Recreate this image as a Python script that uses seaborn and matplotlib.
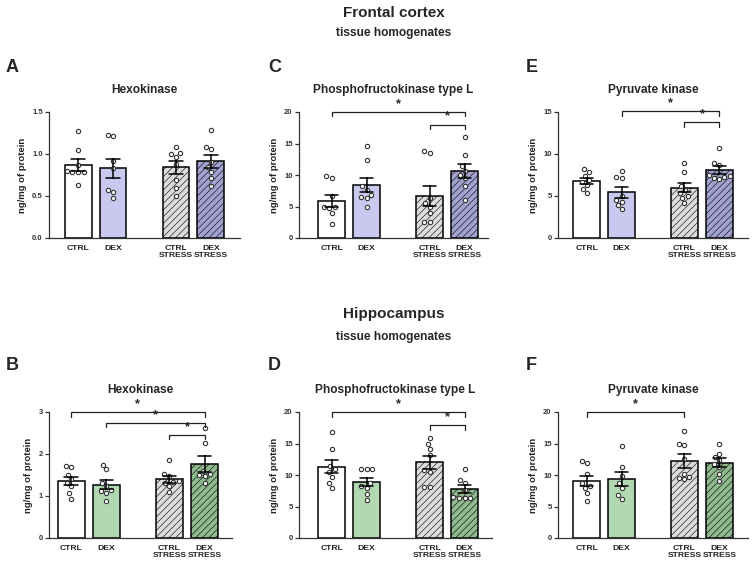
import numpy as np
import pandas as pd
import matplotlib
matplotlib.use("Agg")
import matplotlib.pyplot as plt
import seaborn as sns

# ---------------- data ----------------
groups = ["CTRL", "DEX", "CTRL STRESS", "DEX STRESS"]
tick_labels = ["CTRL", "DEX", "CTRL\nSTRESS", "DEX\nSTRESS"]

# A: Frontal cortex - Hexokinase
a_ctrl = [1.27, 1.05, 0.87, 0.80, 0.79, 0.78, 0.79, 0.63]
a_dex = [1.21, 1.23, 0.92, 0.83, 0.575, 0.55, 0.48]
a_cs = [1.08, 1.01, 1.00, 0.97, 0.885, 0.69, 0.59, 0.50]
a_ds = [1.29, 1.08, 1.06, 0.91, 0.845, 0.79, 0.71, 0.615]

# C: Frontal cortex - Phosphofructokinase type L
c_ctrl = [9.8, 9.6, 6.6, 5.0, 4.9, 4.8, 4.0, 2.2]
c_dex = [14.6, 12.4, 8.2, 7.6, 6.8, 6.5, 6.3, 5.0]
c_cs = [13.5, 13.75, 6.35, 5.55, 5.0, 4.0, 2.5, 2.5]
c_ds = [16.0, 13.2, 10.6, 11.4, 10.05, 9.5, 8.3, 6.1]

# E: Frontal cortex - Pyruvate kinase
e_ctrl = [8.2, 7.9, 7.4, 6.9, 6.7, 6.3, 5.8, 5.3]
e_dex = [8.0, 7.3, 7.1, 5.0, 4.5, 4.3, 3.9, 3.4]
e_cs = [8.9, 7.9, 6.2, 5.75, 5.35, 5.0, 4.75, 4.15]
e_ds = [10.7, 8.9, 8.7, 7.5, 7.4, 7.15, 7.0, 7.3]

# B: Hippocampus - Hexokinase
b_ctrl = [1.71, 1.68, 1.51, 1.40, 1.31, 1.23, 1.06, 0.94]
b_dex = [1.75, 1.64, 1.31, 1.23, 1.15, 1.13, 1.07, 0.89]
b_cs = [1.85, 1.53, 1.48, 1.35, 1.33, 1.31, 1.23, 1.09]
b_ds = [2.63, 2.26, 1.60, 1.53, 1.50, 1.48, 1.32]

# D: Hippocampus - Phosphofructokinase type L
d_ctrl = [16.8, 14.2, 11.4, 10.9, 10.5, 9.7, 8.8, 8.0]
d_dex = [10.9, 10.9, 10.9, 8.7, 8.3, 8.0, 7.0, 6.05]
d_cs = [15.9, 15.0, 14.2, 13.2, 10.8, 10.5, 8.15, 8.15]
d_ds = [10.9, 9.2, 8.7, 7.6, 6.5, 6.3, 6.3, 6.3]

# F: Hippocampus - Pyruvate kinase
f_ctrl = [12.3, 11.85, 10.15, 8.7, 8.3, 7.9, 7.1, 5.8]
f_dex = [14.6, 11.3, 9.85, 8.7, 7.9, 6.85, 6.2]
f_cs = [17.0, 14.9, 14.75, 12.5, 10.15, 9.75, 9.5, 9.3]
f_ds = [14.9, 13.4, 12.9, 12.4, 11.7, 11.3, 10.15, 9.1]

# significance brackets: (group i, group j, y)
a_sig = []
c_sig = [(0, 3, 20.0), (2, 3, 18.0)]
e_sig = [(1, 3, 15.1), (2, 3, 13.8)]
b_sig = [(0, 3, 3.0), (1, 3, 2.74), (2, 3, 2.46)]
d_sig = [(0, 3, 20.0), (2, 3, 17.9)]
f_sig = [(0, 2, 20.0)]

# ---------------- style ----------------
sns.set_theme(style="ticks")
plt.rcParams["font.family"] = ["Liberation Sans", "DejaVu Sans"]
plt.rcParams["font.weight"] = "bold"
plt.rcParams["hatch.linewidth"] = 0.4

W, H = 752, 567
fig = plt.figure(figsize=(W / 100, H / 100), dpi=100)
fig.patch.set_facecolor("white")

positions = [0.0, 1.0, 2.8, 3.8]
purple_pal = {"CTRL": "#ffffff", "DEX": "#c2c2f6",
              "CTRL STRESS": "#dcdcdc", "DEX STRESS": "#9a9ad8"}
green_pal = {"CTRL": "#ffffff", "DEX": "#acdeac",
             "CTRL STRESS": "#dcdcdc", "DEX STRESS": "#88c088"}
hatched = {"CTRL STRESS", "DEX STRESS"}
axis_col = "#333333"


def px_rect(x0, x1, ytop, ybot):
    return [x0 / W, 1 - ybot / H, (x1 - x0) / W, (ybot - ytop) / H]


panels = [
    dict(letter="A", title="Hexokinase", data=[a_ctrl, a_dex, a_cs, a_ds],
         ymax=1.5, yticks=[0, 0.5, 1.0, 1.5], yfmt="{:.1f}", sig=a_sig,
         pal=purple_pal, rect=px_rect(49, 240, 112, 238), xlim=(-0.83, 4.63),
         lx=6, ly=68),
    dict(letter="C", title="Phosphofructokinase type L", data=[c_ctrl, c_dex, c_cs, c_ds],
         ymax=20, yticks=[0, 5, 10, 15, 20], yfmt="{:.0f}", sig=c_sig,
         pal=purple_pal, rect=px_rect(299, 488, 112, 238), xlim=(-0.93, 4.47),
         lx=268, ly=68),
    dict(letter="E", title="Pyruvate kinase", data=[e_ctrl, e_dex, e_cs, e_ds],
         ymax=15, yticks=[0, 5, 10, 15], yfmt="{:.0f}", sig=e_sig,
         pal=purple_pal, rect=px_rect(558, 748, 112, 238), xlim=(-0.82, 4.62),
         lx=526, ly=68),
    dict(letter="B", title="Hexokinase", data=[b_ctrl, b_dex, b_cs, b_ds],
         ymax=3, yticks=[0, 1, 2, 3], yfmt="{:.0f}", sig=b_sig,
         pal=green_pal, rect=px_rect(49, 232, 412, 538), xlim=(-0.63, 4.58),
         lx=6, ly=365),
    dict(letter="D", title="Phosphofructokinase type L", data=[d_ctrl, d_dex, d_cs, d_ds],
         ymax=20, yticks=[0, 5, 10, 15, 20], yfmt="{:.0f}", sig=d_sig,
         pal=green_pal, rect=px_rect(299, 492, 412, 538), xlim=(-0.93, 4.58),
         lx=268, ly=365),
    dict(letter="F", title="Pyruvate kinase", data=[f_ctrl, f_dex, f_cs, f_ds],
         ymax=20, yticks=[0, 5, 10, 15, 20], yfmt="{:.0f}", sig=f_sig,
         pal=green_pal, rect=px_rect(558, 748, 412, 538), xlim=(-0.82, 4.62),
         lx=526, ly=365),
]

for p in panels:
    ax = fig.add_axes(p["rect"])
    rows = []
    for g, pos, vals in zip(groups, positions, p["data"]):
        for v in vals:
            rows.append({"group": g, "pos": pos, "value": v})
    df = pd.DataFrame(rows)

    sns.barplot(data=df, x="pos", y="value", hue="group", hue_order=groups,
                palette=p["pal"], native_scale=True, width=0.77, dodge=False,
                errorbar="se", capsize=0.38, legend=False,
                edgecolor="black", linewidth=1.1,
                err_kws={"color": "black", "linewidth": 1.1}, ax=ax)
    # hatch the stress bars
    for patch in ax.patches:
        cx = patch.get_x() + patch.get_width() / 2
        idx = int(np.argmin([abs(cx - q) for q in positions]))
        if groups[idx] in hatched:
            patch.set_hatch("/////")
        patch.set_zorder(1)
    for ln in ax.lines:
        ln.set_zorder(4)

    sns.swarmplot(data=df, x="pos", y="value", native_scale=True,
                  color="white", edgecolor="#333333", linewidth=0.8,
                  size=3.1, ax=ax, zorder=3)
    for coll in ax.collections:
        coll.set_zorder(3)

    ymax = p["ymax"]
    ax.set_ylim(0, ymax)
    ax.set_xlim(*p["xlim"])
    ax.set_yticks(p["yticks"])
    ax.set_yticklabels([p["yfmt"].format(t) for t in p["yticks"]])
    ax.set_xticks(positions)
    ax.set_xticklabels(tick_labels, linespacing=1.0)
    ax.set_xlabel("")
    ax.set_ylabel("ng/mg of protein", fontsize=6.8, fontweight="bold",
                  labelpad=4, color="#222222")
    ax.tick_params(axis="y", length=3, width=0.9, colors=axis_col,
                   labelsize=5.5, pad=1.5)
    ax.tick_params(axis="x", length=0, labelsize=6.1, pad=5,
                   labelcolor="#222222")
    for lab in ax.get_xticklabels() + ax.get_yticklabels():
        lab.set_fontweight("bold")
    for s in ("top", "right"):
        ax.spines[s].set_visible(False)
    for s in ("left", "bottom"):
        ax.spines[s].set_color(axis_col)
        ax.spines[s].set_linewidth(0.9)
    ax.set_facecolor("none")
    ax.set_title(p["title"], fontsize=8.6, fontweight="bold", pad=14)

    drop = ymax * 4.5 / 126
    for i, j, y in p["sig"]:
        x1, x2 = positions[i], positions[j]
        ax.plot([x1, x1, x2, x2], [y - drop, y, y, y - drop], color="#222222",
                lw=0.9, clip_on=False, zorder=5)
        ax.text((x1 + x2) / 2, y + ymax * 2.0 / 126, "*", ha="center",
                va="bottom", fontsize=9, fontweight="bold", clip_on=False)

    fig.text(p["lx"] / W, 1 - p["ly"] / H, p["letter"], fontsize=13,
             fontweight="bold", ha="left", va="center")

fig.text(394 / W, 1 - 13 / H, "Frontal cortex", fontsize=11, fontweight="bold",
         ha="center", va="center")
fig.text(394 / W, 1 - 33 / H, "tissue homogenates", fontsize=8.6,
         fontweight="bold", ha="center", va="center")
fig.text(394 / W, 1 - 314 / H, "Hippocampus", fontsize=11, fontweight="bold",
         ha="center", va="center")
fig.text(394 / W, 1 - 337 / H, "tissue homogenates", fontsize=8.6,
         fontweight="bold", ha="center", va="center")

fig.savefig("out.png", dpi=100, facecolor="white")
